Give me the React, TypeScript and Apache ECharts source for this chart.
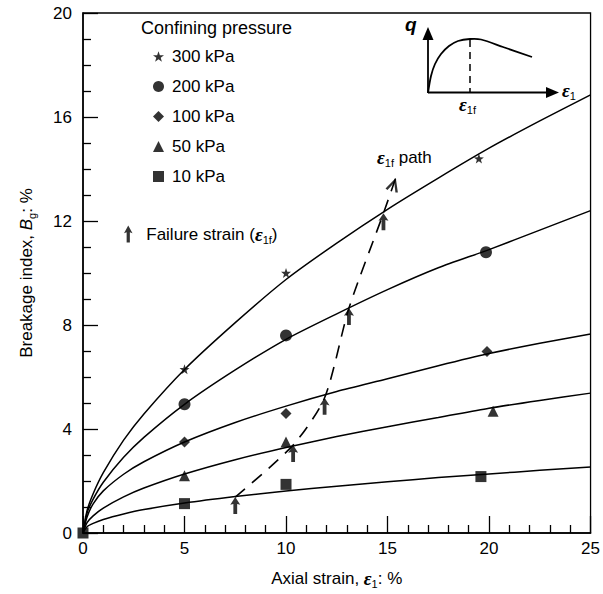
import React, { useEffect, useRef } from "react";
import * as echarts from "echarts";

// ---- data ----
const pressures = ["300 kPa", "200 kPa", "100 kPa", "50 kPa", "10 kPa"];
const curveX = [0, 0.2, 0.5, 1, 2, 3, 5, 7.5, 10, 12.5, 15, 17.5, 20, 22.5, 25];
const curve300 = [0, 0.86, 1.51, 2.32, 3.57, 4.58, 6.29, 8.09, 9.75, 11.15, 12.45, 13.65, 14.8, 15.85, 16.85];
const curve200 = [0, 0.77, 1.3, 1.95, 2.91, 3.68, 4.95, 6.27, 7.45, 8.43, 9.36, 10.2, 10.9, 11.65, 12.4];
const curve100 = [0, 0.62, 1.12, 1.62, 2.26, 2.74, 3.5, 4.25, 4.88, 5.44, 5.93, 6.43, 6.9, 7.3, 7.65];
const curve50 = [0, 0.4, 0.66, 0.96, 1.39, 1.73, 2.27, 2.82, 3.29, 3.71, 4.09, 4.44, 4.8, 5.1, 5.38];
const curve10 = [0, 0.24, 0.37, 0.52, 0.73, 0.9, 1.15, 1.4, 1.62, 1.8, 1.97, 2.13, 2.27, 2.41, 2.54];

const p300 = [[5, 6.3], [10, 10.0], [19.5, 14.4]];
const p200 = [[5, 4.95], [10, 7.6], [19.85, 10.8]];
const p100 = [[5, 3.5], [10, 4.6], [19.9, 6.98]];
const p50 = [[5, 2.2], [10, 3.5], [20.2, 4.68]];
const p10 = [[0, 0], [5, 1.13], [10, 1.87], [19.6, 2.17]];

const failX = [7.5, 10.35, 11.9, 13.1, 14.8];
const failY = [1.38, 3.38, 5.2, 8.65, 12.3];
const pathEnd = [15.42, 13.69];
const pathHead = [15.3, 13.4];

const xMin = 0, xMax = 25, xStep = 5;
const yMin = 0, yMax = 20, yStep = 4;

const FONT = "Liberation Sans";
const SERIF = "Liberation Serif";

const STAR =
  "path://M50,0 L61.76,33.82 L97.55,34.55 L69.02,56.18 L79.39,90.45 L50,70 L20.61,90.45 L30.98,56.18 L2.45,34.55 L38.24,33.82 Z";
const ARROW = "path://M5,0 L10,9 L6.9,8 L6.9,20 L3.1,20 L3.1,8 L0,9 Z";
const CHEVRON = "path://M0,10 L5,0 L10,10 L8.2,10.6 L5,3.6 L1.8,10.6 Z";

const zip = (xs: number[], ys: number[]) => xs.map((x, i) => [x, ys[i]]);

const richBase = {
  e: { fontFamily: SERIF, fontStyle: "italic", fontWeight: "bold", fontSize: 19, lineHeight: 22, color: "#000" },
  i: { fontFamily: FONT, fontStyle: "italic", fontSize: 17, lineHeight: 22, color: "#000" },
  s: { fontFamily: FONT, fontSize: 11, verticalAlign: "bottom", color: "#000" },
};

export default function App() {
  const ref = useRef<HTMLDivElement>(null);
  useEffect(() => {
    if (!ref.current) return;
    const chart = echarts.init(ref.current, undefined, { renderer: "svg" });
    const curves = [curve300, curve200, curve100, curve50, curve10];
    const points = [p300, p200, p100, p50, p10];
    const symbols = [STAR, "circle", "diamond", "triangle", "rect"];
    const sizes = [10, 12, 11, 11, 11];

    const series: any[] = [];
    curves.forEach((c, k) => {
      series.push({
        name: "curve" + k,
        type: "line",
        data: zip(curveX, c),
        smooth: 0.25,
        showSymbol: false,
        lineStyle: { color: "#000", width: 1.5 },
        z: 2,
      });
    });
    points.forEach((p, k) => {
      series.push({
        name: pressures[k],
        type: "scatter",
        data: p,
        symbol: symbols[k],
        symbolSize: sizes[k],
        itemStyle: { color: "#000" },
        z: 5,
      });
    });
    series.push({
      name: "path",
      type: "line",
      data: [...zip(failX, failY), pathEnd],
      smooth: 0.25,
      showSymbol: false,
      lineStyle: { color: "#000", width: 1.6, type: [13, 9] },
      z: 3,
    });
    series.push({
      name: "Failure",
      type: "scatter",
      data: zip(failX, failY),
      symbol: ARROW,
      symbolSize: [10, 17],
      symbolOffset: [0, 8.5],
      itemStyle: { color: "#000" },
      z: 6,
    });
    series.push({
      name: "head",
      type: "scatter",
      data: [pathHead],
      symbol: CHEVRON,
      symbolSize: [13, 14],
      symbolRotate: -18,
      itemStyle: { color: "#000" },
      z: 6,
    });

    const option: any = {
      animation: false,
      textStyle: { fontFamily: FONT, color: "#000" },
      title: {
        text: "Confining pressure",
        left: 141,
        top: 19,
        padding: 0,
        textStyle: { fontFamily: FONT, fontSize: 18, fontWeight: "normal", color: "#000" },
      },
      legend: [
        {
          data: pressures,
          orient: "vertical",
          left: 148,
          top: 43,
          itemWidth: 11,
          itemHeight: 11,
          itemGap: 13,
          selectedMode: false,
          textStyle: { fontFamily: FONT, fontSize: 17, color: "#000", padding: [0, 0, 0, 3] },
        },
        {
          data: ["Failure"],
          orient: "vertical",
          left: 119,
          top: 218,
          itemWidth: 10,
          itemHeight: 17,
          selectedMode: false,
          formatter: () => "Failure strain ({e|ε}{s|1f})",
          textStyle: {
            fontFamily: FONT,
            fontSize: 17,
            lineHeight: 22,
            color: "#000",
            padding: [0, 0, 0, 8],
            rich: richBase,
          },
        },
      ],
      grid: {
        left: 83,
        top: 13,
        right: 9,
        bottom: 61,
        show: true,
        borderColor: "#000",
        borderWidth: 1.3,
      },
      xAxis: {
        type: "value",
        min: xMin,
        max: xMax,
        interval: xStep,
        name: "Axial strain, {e|ε}{s|1}: %",
        nameLocation: "middle",
        nameGap: 34,
        nameTextStyle: { fontFamily: FONT, fontSize: 17, lineHeight: 22, color: "#000", rich: richBase },
        axisLine: { lineStyle: { color: "#000", width: 1.5 } },
        axisTick: { inside: true, length: 17, lineStyle: { color: "#000", width: 1.3 } },
        minorTick: { show: true, splitNumber: 5, length: 8, lineStyle: { color: "#000", width: 1.3 } },
        axisLabel: { fontFamily: FONT, fontSize: 17, color: "#000", margin: 7 },
        splitLine: { show: false },
      },
      yAxis: {
        type: "value",
        min: yMin,
        max: yMax,
        interval: yStep,
        name: "Breakage index, {i|B}{s|g}: %",
        nameLocation: "middle",
        nameRotate: 90,
        nameGap: 46,
        nameTextStyle: { fontFamily: FONT, fontSize: 17, lineHeight: 22, color: "#000", rich: richBase },
        axisLine: { lineStyle: { color: "#000", width: 1.5 } },
        axisTick: { inside: true, length: 15, lineStyle: { color: "#000", width: 1.3 } },
        minorTick: { show: true, splitNumber: 4, length: 8, lineStyle: { color: "#000", width: 1.3 } },
        axisLabel: { fontFamily: FONT, fontSize: 17, color: "#000", margin: 11 },
        splitLine: { show: false },
      },
      graphic: [
        {
          type: "text",
          left: 377,
          top: 146,
          style: {
            text: "{e|ε}{s|1f} path",
            fontFamily: FONT,
            fontSize: 17,
            lineHeight: 22,
            fill: "#000",
            rich: richBase,
          },
        },
        // inset schematic
        {
          type: "polyline",
          shape: {
            points: [[428, 93], [431, 76], [435, 64], [441, 54], [449, 46], [458, 41], [470, 39], [481, 39.5], [503, 47], [532, 57]],
            smooth: 0.3,
          },
          style: { stroke: "#000", lineWidth: 1.8, fill: null },
        },
        { type: "line", shape: { x1: 428, y1: 93, x2: 428, y2: 36 }, style: { stroke: "#000", lineWidth: 1.8 } },
        { type: "polygon", shape: { points: [[428, 27], [422.5, 40], [433.5, 40]] }, style: { fill: "#000" } },
        { type: "line", shape: { x1: 428, y1: 92.5, x2: 548, y2: 92.5 }, style: { stroke: "#000", lineWidth: 1.8 } },
        { type: "polygon", shape: { points: [[559, 92.5], [546, 87], [546, 98]] }, style: { fill: "#000" } },
        { type: "line", shape: { x1: 470, y1: 40, x2: 470, y2: 92 }, style: { stroke: "#000", lineWidth: 1.5, lineDash: [7, 5] } },
        {
          type: "text",
          left: 405,
          top: 15,
          style: { text: "q", fontFamily: FONT, fontStyle: "italic", fontWeight: "bold", fontSize: 19, fill: "#000" },
        },
        {
          type: "text",
          left: 562,
          top: 79,
          style: { text: "{e|ε}{s|1}", fontFamily: FONT, fontSize: 17, lineHeight: 22, fill: "#000", rich: richBase },
        },
        {
          type: "text",
          left: 459,
          top: 93,
          style: { text: "{e|ε}{s|1f}", fontFamily: FONT, fontSize: 17, lineHeight: 22, fill: "#000", rich: richBase },
        },
      ],
      series,
    };
    chart.setOption(option);
    return () => chart.dispose();
  }, []);
  return (
    <div
      ref={ref}
      style={{ position: "fixed", left: 0, top: 0, width: 603, height: 594, background: "#fff" }}
    />
  );
}
